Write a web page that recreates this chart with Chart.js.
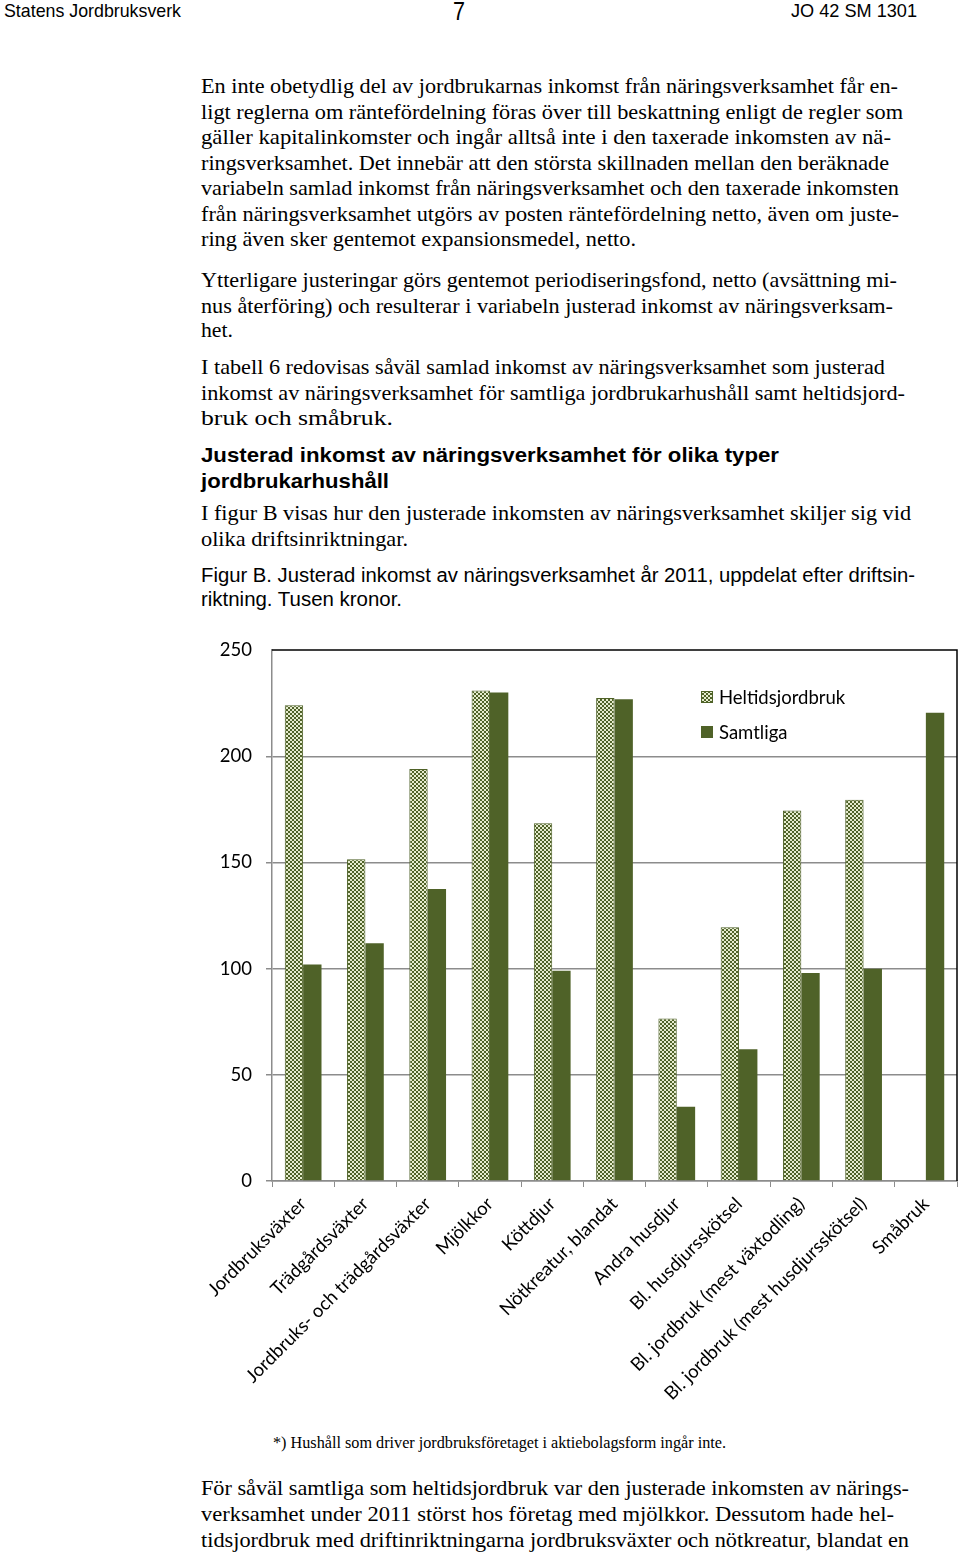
<!DOCTYPE html>
<html>
<head>
<meta charset="utf-8">
<script src="https://cdn.jsdelivr.net/npm/chart.js@4.4.1/dist/chart.umd.min.js"></script>
<style>
  html, body { margin: 0; padding: 0; background: #fff; }
  body { width: 960px; height: 1555px; position: relative; overflow: hidden; }
  .ln { position: absolute; white-space: nowrap; color: #000; transform-origin: 0 50%; height: 26px; line-height: 26px; }
  .serif { font-family: "Liberation Serif", "Times New Roman", serif; font-size: 21.5px; }
  .sans { font-family: "Liberation Sans", Arial, sans-serif; }
  #chartBox { position: absolute; left: 200px; top: 625px; width: 760px; height: 805px; }
</style>
</head>
<body>
<div id="page"></div>
<div id="chartBox"><canvas id="chart"></canvas></div>
<script>
const categories = [
    'Jordbruksväxter',
    'Trädgårdsväxter',
    'Jordbruks- och trädgårdsväxter',
    'Mjölkkor',
    'Köttdjur',
    'Nötkreatur, blandat',
    'Andra husdjur',
    'Bl. husdjursskötsel',
    'Bl. jordbruk (mest växtodling)',
    'Bl. jordbruk (mest husdjursskötsel)',
    'Småbruk'
];
const heltidsjordbruk = [224, 151.5, 194, 231, 168.5, 227.5, 76.5, 119.5, 174.5, 179.5, null];
const samtliga = [102, 112, 137.5, 230, 99, 226.8, 35, 62, 98, 100, 220.5];
const yTicks = [0, 50, 100, 150, 200, 250];

const darkGreen = '#4f6228';
const lightGreen = '#e6ecce';

// page text: [text, class, left, right, center y, extra style]
const textLines = [
    ['Statens Jordbruksverk', 'sans', 4, 181, 11, 'font-size:19px'],
    ['7', 'sans', 453, 465, 11, 'font-size:25px'],
    ['JO 42 SM 1301', 'sans', 791, 917, 11, 'font-size:19px'],

    ['En inte obetydlig del av jordbrukarnas inkomst från näringsverksamhet får en-', 'serif', 201, 898, 86],
    ['ligt reglerna om räntefördelning föras över till beskattning enligt de regler som', 'serif', 201, 903, 111.5],
    ['gäller kapitalinkomster och ingår alltså inte i den taxerade inkomsten av nä-', 'serif', 201, 891, 137],
    ['ringsverksamhet. Det innebär att den största skillnaden mellan den beräknade', 'serif', 201, 889, 162.5],
    ['variabeln samlad inkomst från näringsverksamhet och den taxerade inkomsten', 'serif', 201, 899, 188],
    ['från näringsverksamhet utgörs av posten räntefördelning netto, även om juste-', 'serif', 201, 899, 213.5],
    ['ring även sker gentemot expansionsmedel, netto.', 'serif', 201, 636, 239],

    ['Ytterligare justeringar görs gentemot periodiseringsfond, netto (avsättning mi-', 'serif', 201, 897, 280],
    ['nus återföring) och resulterar i variabeln justerad inkomst av näringsverksam-', 'serif', 201, 893, 305.5],
    ['het.', 'serif', 201, 233, 330],

    ['I tabell 6 redovisas såväl samlad inkomst av näringsverksamhet som justerad', 'serif', 201, 885, 367],
    ['inkomst av näringsverksamhet för samtliga jordbrukarhushåll samt heltidsjord-', 'serif', 201, 905, 392.5],
    ['bruk och småbruk.', 'serif', 201, 393, 418],

    ['Justerad inkomst av näringsverksamhet för olika typer', 'sans', 201, 779, 455, 'font-size:20.5px;font-weight:bold'],
    ['jordbrukarhushåll', 'sans', 201, 389, 481, 'font-size:20.5px;font-weight:bold'],

    ['I figur B visas hur den justerade inkomsten av näringsverksamhet skiljer sig vid', 'serif', 201, 911, 513],
    ['olika driftsinriktningar.', 'serif', 201, 408, 539],

    ['Figur B. Justerad inkomst av näringsverksamhet år 2011, uppdelat efter driftsin-', 'sans', 201, 915, 575, 'font-size:19.5px'],
    ['riktning. Tusen kronor.', 'sans', 201, 402, 599, 'font-size:19.5px'],

    ['*) Hushåll som driver jordbruksföretaget i aktiebolagsform ingår inte.', 'serif', 273, 726, 1443, 'font-size:16px'],

    ['För såväl samtliga som heltidsjordbruk var den justerade inkomsten av närings-', 'serif', 201, 909, 1488],
    ['verksamhet under 2011 störst hos företag med mjölkkor. Dessutom hade hel-', 'serif', 201, 894, 1514],
    ['tidsjordbruk med driftinriktningarna jordbruksväxter och nötkreatur, blandat en', 'serif', 201, 909, 1540]
];

function drawText() {
    const page = document.getElementById('page');
    textLines.forEach(l => {
        const span = document.createElement('div');
        span.className = 'ln ' + l[1];
        span.textContent = l[0];
        span.style.left = l[2] + 'px';
        span.style.top = (l[4] - 13) + 'px';
        if (l[5]) span.style.cssText += ';' + l[5];
        page.appendChild(span);
        const w = span.getBoundingClientRect().width;
        if (l[3] && w > 0) {
            span.style.transform = `scaleX(${(l[3] - l[2]) / w})`;
        }
    });
}

function makePattern() {
    const c = document.createElement('canvas');
    c.width = 4;
    c.height = 4;
    const g = c.getContext('2d');
    g.fillStyle = darkGreen;
    g.fillRect(0, 0, 4, 4);
    g.fillStyle = lightGreen;
    g.fillRect(0, 0, 2, 2);
    g.fillRect(2, 2, 2, 2);
    return g.createPattern(c, 'repeat');
}

const framePlugin = {
    id: 'frame',
    afterDraw(chart) {
        const { ctx, chartArea } = chart;
        ctx.save();
        ctx.strokeStyle = '#000';
        ctx.lineWidth = 1.5;
        ctx.beginPath();
        ctx.moveTo(chartArea.left, chartArea.top);
        ctx.lineTo(chartArea.right, chartArea.top);
        ctx.lineTo(chartArea.right, chartArea.bottom);
        ctx.stroke();

        // legend inside plot area
        const items = [
            { label: 'Heltidsjordbruk', ds: chart.data.datasets[0], y: 697 - 625 },
            { label: 'Samtliga', ds: chart.data.datasets[1], y: 732 - 625 }
        ];
        ctx.font = '18.5px Lato, "Open Sans", sans-serif';
        ctx.textBaseline = 'middle';
        items.forEach(it => {
            ctx.fillStyle = it.ds.backgroundColor;
            ctx.fillRect(501, it.y - 6, 12, 12);
            ctx.strokeStyle = darkGreen;
            ctx.lineWidth = 1;
            ctx.strokeRect(501.5, it.y - 5.5, 11, 11);
            ctx.fillStyle = '#000';
            ctx.fillText(it.label, 519, it.y + 1);
        });
        ctx.restore();
    }
};

function drawChart() {
    const ctx = document.getElementById('chart').getContext('2d');
    new Chart(ctx, {
        type: 'bar',
        data: {
            labels: categories,
            datasets: [{
                label: 'Heltidsjordbruk',
                data: heltidsjordbruk,
                backgroundColor: makePattern(),
                borderColor: darkGreen,
                borderWidth: 1
            }, {
                label: 'Samtliga',
                data: samtliga,
                backgroundColor: darkGreen,
                borderWidth: 0
            }]
        },
        options: {
            responsive: true,
            maintainAspectRatio: false,
            animation: false,
            categoryPercentage: 0.59,
            barPercentage: 1,
            layout: { padding: { top: 15, right: 3, left: 0, bottom: 0 } },
            plugins: {
                legend: { display: false },
                tooltip: { enabled: false }
            },
            scales: {
                x: {
                    afterFit(scale) { scale.height = 249; },
                    grid: {
                        offset: true,
                        drawOnChartArea: false,
                        drawTicks: true,
                        tickLength: 6,
                        color: '#8c8c8c'
                    },
                    border: { color: '#8c8c8c', width: 1.5 },
                    ticks: {
                        minRotation: 45,
                        maxRotation: 45,
                        autoSkip: false,
                        padding: 6,
                        color: '#000',
                        font: { family: 'Lato, "Open Sans", sans-serif', size: 18.5 }
                    }
                },
                y: {
                    min: 0,
                    max: 250,
                    afterFit(scale) { scale.width = 72; },
                    afterBuildTicks(scale) { scale.ticks = yTicks.map(v => ({ value: v })); },
                    grid: {
                        color: c => c.tick && c.tick.value === 250 ? 'rgba(0,0,0,0)' : '#8c8c8c',
                        lineWidth: 1.5,
                        drawTicks: true,
                        tickLength: 6
                    },
                    border: { color: '#8c8c8c', width: 1.5 },
                    ticks: {
                        padding: 14,
                        color: '#000',
                        font: { family: 'Lato, "Open Sans", sans-serif', size: 18.5 }
                    }
                }
            }
        },
        plugins: [framePlugin]
    });
}

window.onload = () => {
    drawText();
    drawChart();
};
</script>
</body>
</html>
